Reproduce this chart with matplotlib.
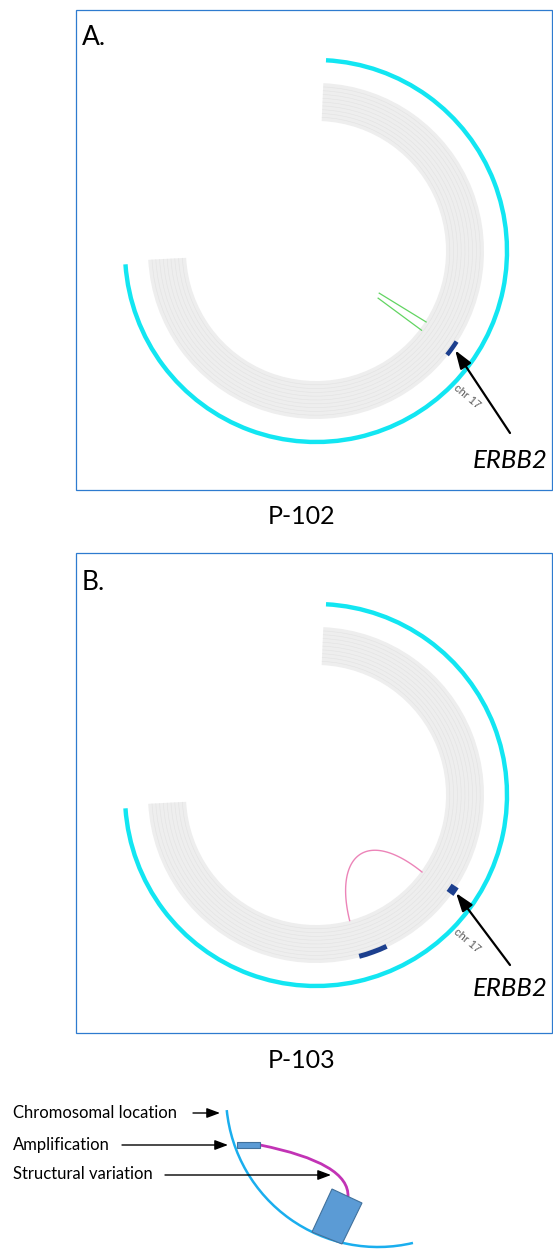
import numpy as np
import matplotlib
matplotlib.use('Agg')
import matplotlib.pyplot as plt
from matplotlib.patches import Rectangle, Arc, Polygon, PathPatch
from matplotlib.path import Path

plt.rcParams['font.family'] = ['Lato', 'DejaVu Sans']

# ---- data (angles in degrees, counter-clockwise from 3 o'clock) ----
panel_labels = ['A.', 'B.']
sample_ids = ['P-102', 'P-103']
gene_label = 'ERBB2'
chrom_label = 'chr 17'

track_span = (-177.0, 87.5)        # grey copy-number track
location_span = (-176.0, 87.0)     # cyan chromosomal location arc
n_track_rings = 10

# amplified segments per sample (start, end)
amp_segments = [
    [(-38.4, -32.8)],
    [(-36.3, -33.2), (-75.0, -65.0)],
]
erbb2_angle = [-35.5, -35.0]
chr_label_angle = -44.0

# sample A: two short structural-variant chords ((angle, r), (angle, r))
sv_chords_a = [((-33.7, 76), (-32.8, 131)), ((-37.2, 78), (-36.9, 132))]
# sample B: one structural-variant link between two loci
sv_link_b = (-36.0, -75.0)

legend_labels = ['Chromosomal location', 'Amplification', 'Structural variation']

# ---- layout (pixels) ----
W, H = 553, 1253
centers = [(316, 251), (316, 795)]
boxes = [(76, 10, 476, 480), (76, 553, 476, 480)]
label_pos = [(82, 45), (82, 590)]
id_pos = [(302, 517), (302, 1061)]
arrow_tail = [(510, 433), (510, 965)]
gene_pos = [(510, 460), (510, 989)]
amp_radii = [[(165, 169.5)], [(162, 170.5), (164.5, 169.5)]]
R_AX = 210
R_IN, R_OUT = 130, 168
R_LOC = 191

fig = plt.figure(figsize=(W / 100, H / 100), dpi=100)
ov = fig.add_axes([0, 0, 1, 1], zorder=3)
ov.set_xlim(0, W)
ov.set_ylim(H, 0)
ov.axis('off')
ov.patch.set_alpha(0)


def arc_bar(ax, span, r0, r1, **kw):
    a0, a1 = np.deg2rad(span[0]), np.deg2rad(span[1])
    ax.bar((a0 + a1) / 2, r1 - r0, width=a1 - a0, bottom=r0, align='center', **kw)


def pol(angle, r):
    a = np.deg2rad(angle)
    return np.array([r * np.cos(a), r * np.sin(a)])


for i, (cx, cy) in enumerate(centers):
    pax = fig.add_axes([(cx - R_AX) / W, 1 - (cy + R_AX) / H, 2 * R_AX / W, 2 * R_AX / H],
                       projection='polar', zorder=1)
    pax.set_ylim(0, R_AX)
    pax.set_axis_off()

    # grey concentric track
    edges = np.linspace(R_IN, R_OUT, n_track_rings + 1)
    arc_bar(pax, track_span, R_IN, R_OUT, color='#EEEEEE', linewidth=0)
    for r in edges[1:-1]:
        arc_bar(pax, track_span, r - 0.3, r + 0.3, color='#E3E3E3', linewidth=0)

    # cyan chromosomal location
    arc_bar(pax, location_span, R_LOC - 2.2, R_LOC + 2.2, color='#12E6F2', linewidth=0)

    # amplifications
    for seg, (r0, r1) in zip(amp_segments[i], amp_radii[i]):
        arc_bar(pax, seg, r0, r1, color='#1C3F8E', linewidth=0)

    # structural variants
    if i == 0:
        for (a0, r0), (a1, r1) in sv_chords_a:
            pax.plot(np.deg2rad([a0, a1]), [r0, r1], color='#62D462', lw=0.9)
    else:
        p0 = pol(sv_link_b[0], 131)
        p3 = pol(sv_link_b[1], 130)
        p1 = pol(sv_link_b[0] + 3.4, 59)
        p2 = pol(sv_link_b[1] + 1.2, 64)
        t = np.linspace(0, 1, 80)[:, None]
        pts = ((1 - t) ** 3) * p0 + 3 * ((1 - t) ** 2) * t * p1 + 3 * (1 - t) * t ** 2 * p2 + t ** 3 * p3
        pax.plot(np.arctan2(pts[:, 1], pts[:, 0]), np.hypot(pts[:, 0], pts[:, 1]),
                 color='#EC84B8', lw=1.0)

    pax.text(np.deg2rad(chr_label_angle), 210, chrom_label, rotation=-40,
             rotation_mode='anchor', ha='center', va='center', fontsize=8,
             color='#555555', family=['Liberation Sans', 'DejaVu Sans'], clip_on=False)

    # arrow to ERBB2
    pax.annotate('', xy=(np.deg2rad(erbb2_angle[i]), 171), xycoords='data',
                 xytext=arrow_tail[i], textcoords=ov.transData,
                 arrowprops=dict(arrowstyle='-|>,head_length=1.1,head_width=0.38',
                                 color='black', lw=1.6, shrinkA=0, shrinkB=0,
                                 mutation_scale=10))
    ov.text(gene_pos[i][0], gene_pos[i][1], gene_label, style='italic', fontsize=18.5,
            ha='center', va='center')

    # frame, labels
    bx, by, bw, bh = boxes[i]
    ov.add_patch(Rectangle((bx, by), bw, bh, fill=False, edgecolor='#2E7BCF', lw=0.9))
    ov.text(label_pos[i][0], label_pos[i][1], panel_labels[i], fontsize=19,
            ha='left', va='baseline')
    ov.text(id_pos[i][0], id_pos[i][1], sample_ids[i], fontsize=18,
            ha='center', va='center')

# ---- legend schematic ----
ov.add_patch(Arc((378, 1095), 304, 304, theta1=76.7, theta2=174.3,
                 color='#1AAEEE', lw=1.8))
ov.add_patch(PathPatch(Path([(260, 1145), (350, 1163), (348, 1197)],
                            [Path.MOVETO, Path.CURVE3, Path.CURVE3]),
                       fc='none', ec='#C233B5', lw=2))
ov.add_patch(Rectangle((237, 1141.5), 23, 6.5, fc='#5B9BD5', ec='#41719C', lw=0.8))
ov.add_patch(Polygon([(332, 1189), (362, 1203), (342, 1244), (312, 1232)],
                     closed=True, fc='#5B9BD5', ec='#41719C', lw=0.8))

leg_y = [1113, 1145, 1174]
leg_arrows = [((193, 1113), (220, 1113)), ((122, 1145), (228, 1145)),
              ((165, 1175), (331, 1175))]
for lab, y, (tail, tip) in zip(legend_labels, leg_y, leg_arrows):
    ov.text(13, y, lab, fontsize=12, ha='left', va='center')
    ov.annotate('', xy=tip, xytext=tail,
                arrowprops=dict(arrowstyle='-|>,head_length=0.8,head_width=0.3',
                                color='black', lw=1.0, shrinkA=0, shrinkB=0,
                                mutation_scale=10))

fig.savefig('out.png', dpi=100)
